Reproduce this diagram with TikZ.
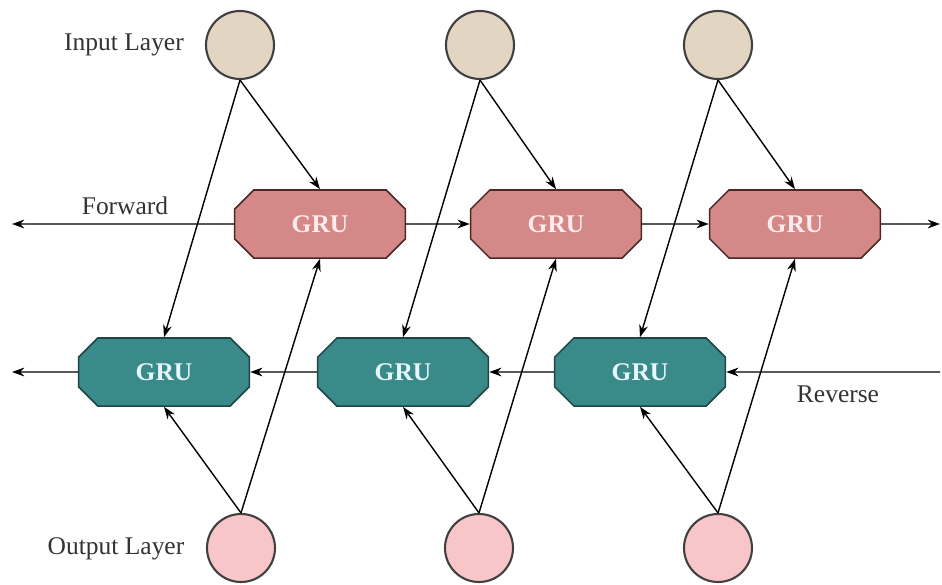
\documentclass[tikz,border=0pt]{standalone}
\usepackage{xcolor}
\usepackage{fontspec}
\setmainfont{Liberation Serif}
\usepackage{tikz}
\usetikzlibrary{shapes.misc,arrows.meta}
\definecolor{fwdfill}{HTML}{D48888}
\definecolor{fwdline}{HTML}{4A2828}
\definecolor{revfill}{HTML}{3A8A8A}
\definecolor{revline}{HTML}{1E4444}
\definecolor{infill}{HTML}{E2D6C2}
\definecolor{outfill}{HTML}{F8C6C8}

\begin{document}
\begin{tikzpicture}[
  fwd/.style={chamfered rectangle, chamfered rectangle sep=5.5pt, inner xsep=27pt, inner ysep=9pt, draw=fwdline, line width=0.9pt, fill=fwdfill, text=white!92!red, font=\fontsize{14.5}{16}\selectfont\bfseries},
  rev/.style={fwd, draw=revline, fill=revfill, text=white!90!cyan},
  layer/.style={circle, draw=black!75, line width=1.2pt, minimum size=1.36cm},
  lbl/.style={font=\fontsize{14.5}{16}\selectfont, text=black!80},
  >={Stealth[length=7pt,width=5pt]}, line width=0.8pt]
\useasboundingbox (0,0) rectangle (18.84,11.68);
\coordinate [] (L1) at (0.24,7.2);
\coordinate [] (R1) at (18.8,7.2);
\coordinate [] (L2) at (0.24,4.24);
\coordinate [] (R2) at (18.8,4.24);
\node[layer, fill=infill] (in1) at (4.8,10.78) {};
\node[layer, fill=infill] (in2) at (9.6,10.78) {};
\node[layer, fill=infill] (in3) at (14.36,10.78) {};
\node[layer, fill=outfill] (out1) at (4.82,0.72) {};
\node[layer, fill=outfill] (out2) at (9.58,0.72) {};
\node[layer, fill=outfill] (out3) at (14.36,0.72) {};
\node[fwd] (f1) at (6.4,7.2) {GRU};
\node[fwd] (f2) at (11.12,7.2) {GRU};
\node[fwd] (f3) at (15.9,7.2) {GRU};
\node[rev] (r1) at (3.28,4.24) {GRU};
\node[rev] (r2) at (8.06,4.24) {GRU};
\node[rev] (r3) at (12.8,4.24) {GRU};
\node[lbl] (inlbl) at (2.48,10.78) {Input Layer};
\node[lbl] (fwdlbl) at (2.5,7.56) {Forward};
\node[lbl] (revlbl) at (16.76,3.8) {Reverse};
\node[lbl] (outlbl) at (2.32,0.7) {Output Layer};
\draw[->] (f1) -- (L1);
\draw[->] (f1) -- (f2);
\draw[->] (f2) -- (f3);
\draw[->] (f3) -- (R1);
\draw[->] (R2) -- (r3);
\draw[->] (r3) -- (r2);
\draw[->] (r2) -- (r1);
\draw[->] (r1) -- (L2);
\foreach \i in {1,2,3}{
  \draw[->] (in\i.south) -- (f\i.north);
  \draw[->] (in\i.south) -- (r\i.north);
  \draw[->] (out\i.north) -- (r\i.south);
  \draw[->] (out\i.north) -- (f\i.south);
}
\end{tikzpicture}
\end{document}
